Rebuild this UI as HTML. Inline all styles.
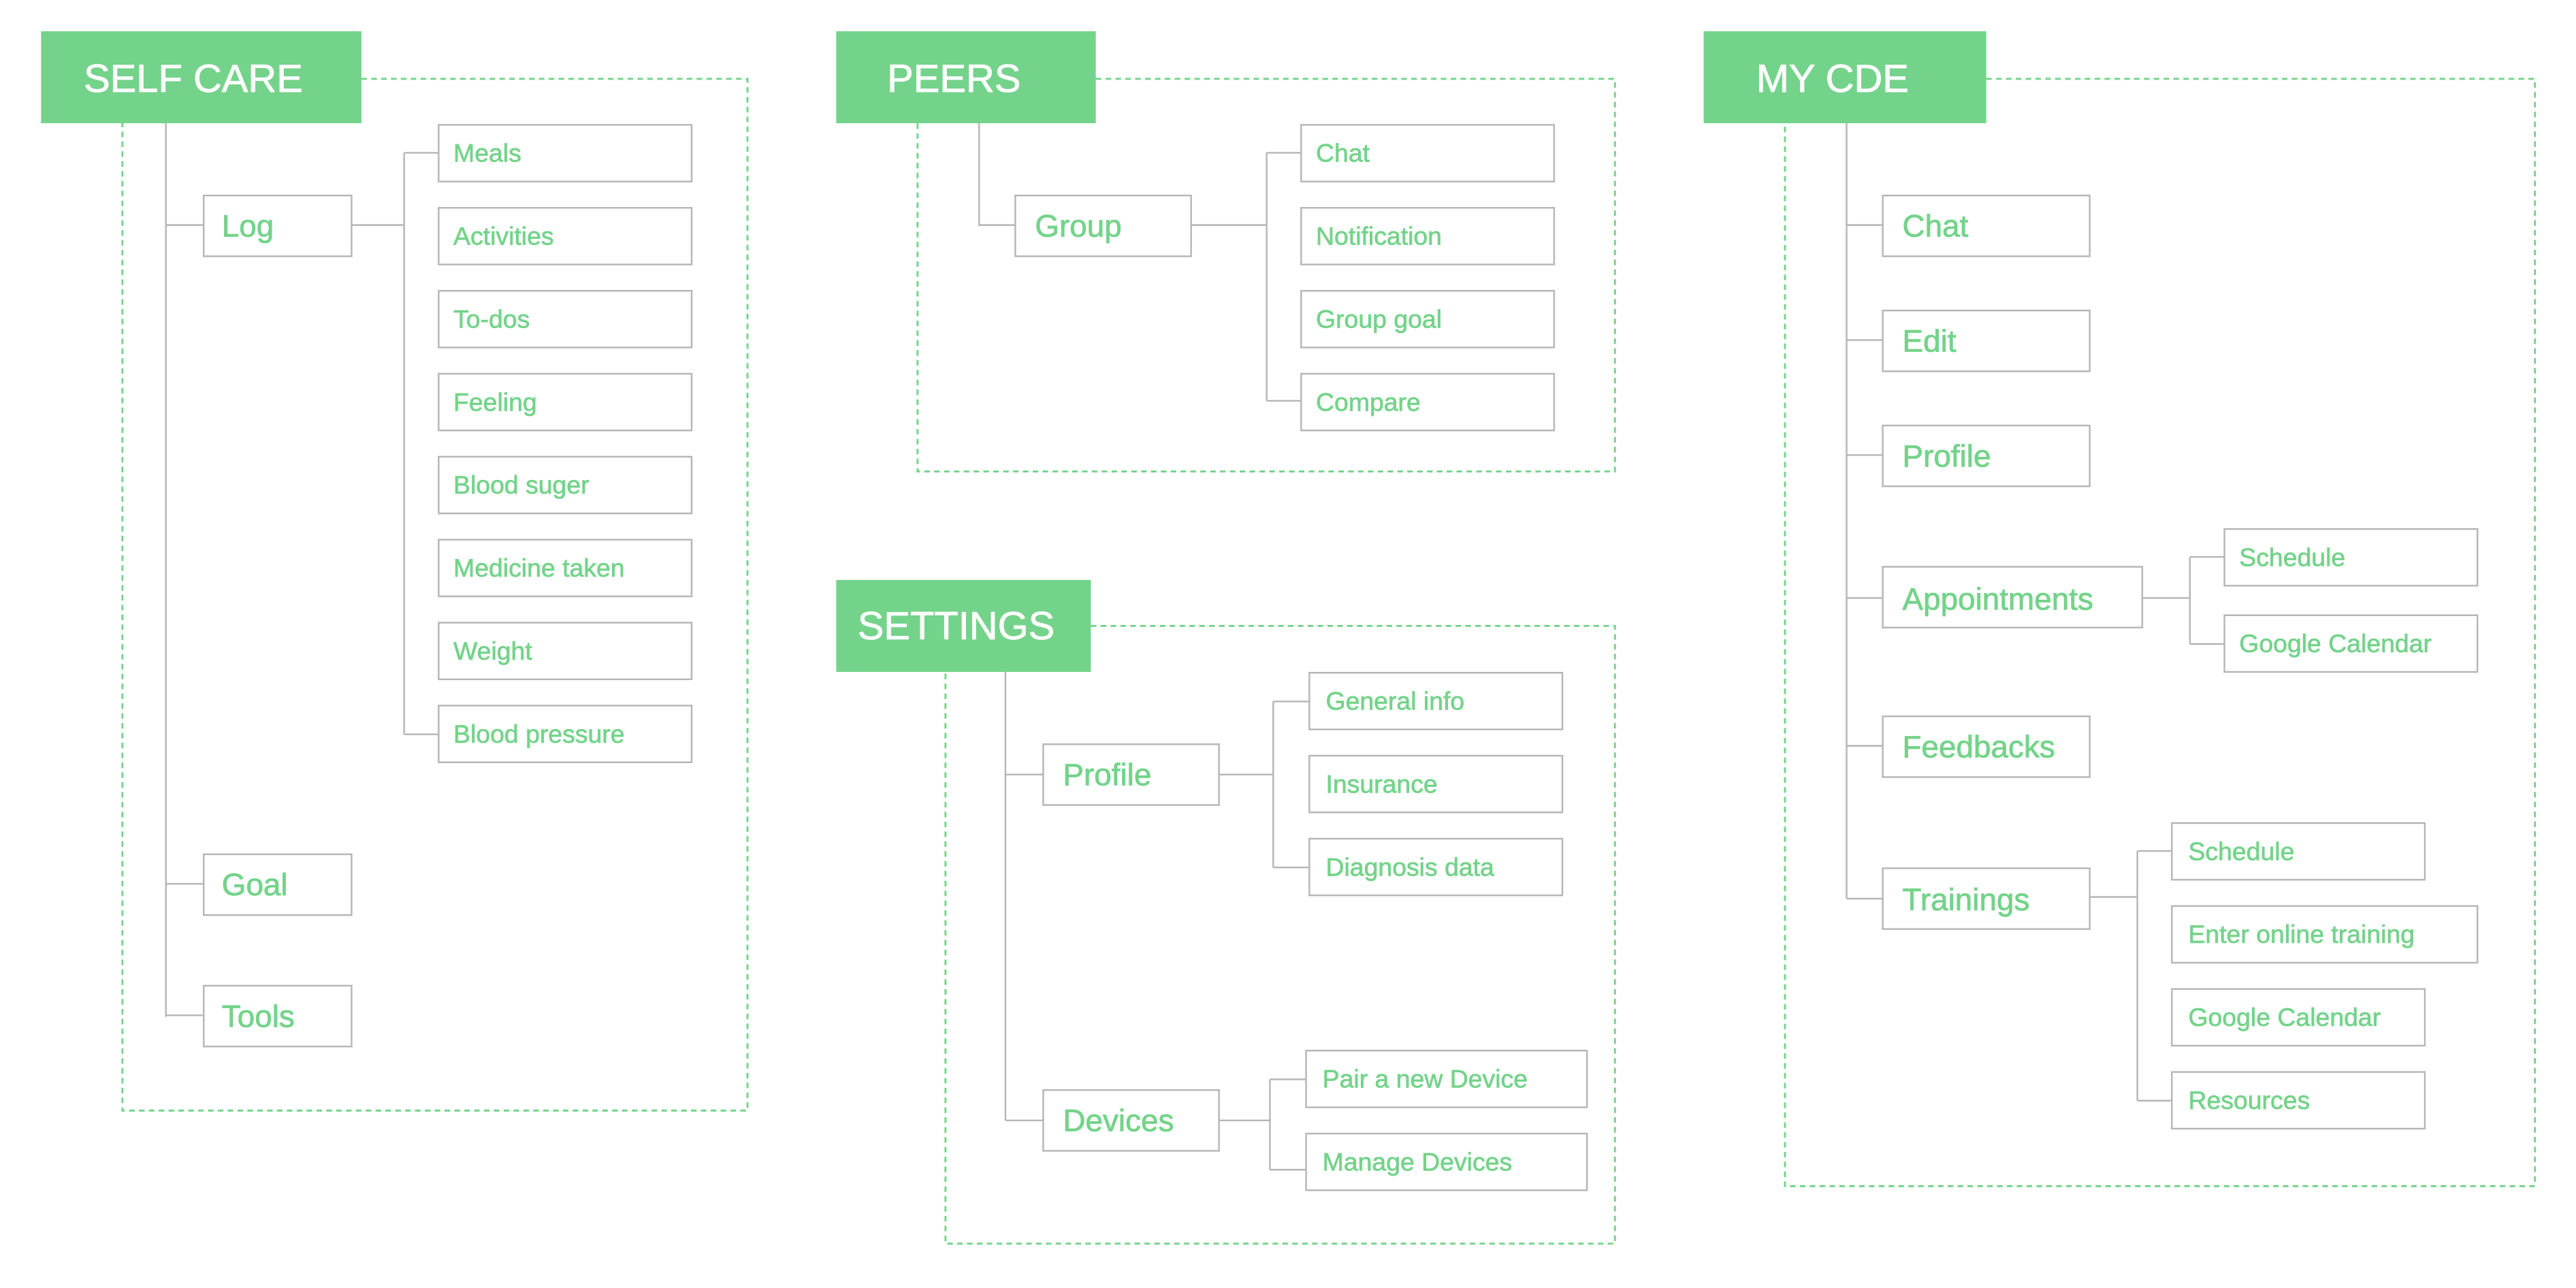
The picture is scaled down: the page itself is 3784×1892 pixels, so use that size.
<!DOCTYPE html>
<html><head><meta charset="utf-8"><style>
html,body{margin:0;padding:0;background:#fff;}
svg{display:block;}
text{font-family:"Liberation Sans",Arial,sans-serif;}
.t{fill:#fff;font-size:24px;stroke:#fff;stroke-width:0.35;}
.L{fill:#74D38A;font-size:19px;stroke:#74D38A;stroke-width:0.35;}
.S{fill:#74D38A;font-size:15.5px;stroke:#74D38A;stroke-width:0.3;}
.b{fill:#fff;stroke:#b5b5b5;stroke-width:1;}
.c{fill:none;stroke:#b5b5b5;stroke-width:1;}
.d{fill:none;stroke:#74D38A;stroke-width:1.2;stroke-dasharray:3.4 2.6;}
.h{fill:#74D38A;}
</style></head><body>
<svg width="3784" height="1892" viewBox="0 0 1568 784" preserveAspectRatio="none" xmlns="http://www.w3.org/2000/svg">
<!-- SELF CARE -->
<polyline class="d" points="220,48 455,48 455,676 74.5,676 74.5,75"/>
<rect class="h" x="25" y="19" width="195" height="56"/>
<text class="t" x="51" y="56">SELF CARE</text>
<path class="c" d="M101,75 V619 M101,137 H124 M101,538 H124 M101,618 H124 M214,137 H246 M246,93 V447 M246,93 H267 M246,447 H267"/>
<rect class="b" x="124" y="119" width="90" height="37"/><text class="L" x="135" y="144">Log</text>
<rect class="b" x="124" y="520" width="90" height="37"/><text class="L" x="135" y="545">Goal</text>
<rect class="b" x="124" y="600" width="90" height="37"/><text class="L" x="135" y="625">Tools</text>
<g>
<rect class="b" x="267" y="76" width="154" height="34.5"/><text class="S" x="276" y="98.5">Meals</text>
<rect class="b" x="267" y="126.5" width="154" height="34.5"/><text class="S" x="276" y="149">Activities</text>
<rect class="b" x="267" y="177" width="154" height="34.5"/><text class="S" x="276" y="199.5">To-dos</text>
<rect class="b" x="267" y="227.5" width="154" height="34.5"/><text class="S" x="276" y="250">Feeling</text>
<rect class="b" x="267" y="278" width="154" height="34.5"/><text class="S" x="276" y="300.5">Blood suger</text>
<rect class="b" x="267" y="328.5" width="154" height="34.5"/><text class="S" x="276" y="351">Medicine taken</text>
<rect class="b" x="267" y="379" width="154" height="34.5"/><text class="S" x="276" y="401.5">Weight</text>
<rect class="b" x="267" y="429.5" width="154" height="34.5"/><text class="S" x="276" y="452">Blood pressure</text>
</g>
<!-- PEERS -->
<polyline class="d" points="667,48 983,48 983,287 558.5,287 558.5,75"/>
<rect class="h" x="509" y="19" width="158" height="56"/>
<text class="t" x="540" y="56">PEERS</text>
<path class="c" d="M596,75 V137 H618 M725,137 H771 M771,93 V244 M771,93 H792 M771,244 H792"/>
<rect class="b" x="618" y="119" width="107" height="37"/><text class="L" x="630" y="144">Group</text>
<rect class="b" x="792" y="76" width="154" height="34.5"/><text class="S" x="801" y="98.5">Chat</text>
<rect class="b" x="792" y="126.5" width="154" height="34.5"/><text class="S" x="801" y="149">Notification</text>
<rect class="b" x="792" y="177" width="154" height="34.5"/><text class="S" x="801" y="199.5">Group goal</text>
<rect class="b" x="792" y="227.5" width="154" height="34.5"/><text class="S" x="801" y="250">Compare</text>
<!-- SETTINGS -->
<polyline class="d" points="664,381 983,381 983,757 575.5,757 575.5,409"/>
<rect class="h" x="509" y="353" width="155" height="56"/>
<text class="t" x="522" y="389">SETTINGS</text>
<path class="c" d="M612,409 V682 M612,471.5 H635 M612,682 H635 M742,471.5 H775 M775,427 V528 M775,427 H797 M775,528 H797 M742,682 H773 M773,657 V712 M773,657 H795 M773,712 H795"/>
<rect class="b" x="635" y="453" width="107" height="37"/><text class="L" x="647" y="478">Profile</text>
<rect class="b" x="635" y="663.5" width="107" height="37"/><text class="L" x="647" y="688.5">Devices</text>
<rect class="b" x="797" y="409.5" width="154" height="34.5"/><text class="S" x="807" y="432">General info</text>
<rect class="b" x="797" y="460" width="154" height="34.5"/><text class="S" x="807" y="482.5">Insurance</text>
<rect class="b" x="797" y="510.5" width="154" height="34.5"/><text class="S" x="807" y="533">Diagnosis data</text>
<rect class="b" x="795" y="639.5" width="171" height="34.5"/><text class="S" x="805" y="662">Pair a new Device</text>
<rect class="b" x="795" y="690" width="171" height="34.5"/><text class="S" x="805" y="712.5">Manage Devices</text>
<!-- MY CDE -->
<polyline class="d" points="1209,48 1543,48 1543,722 1086.5,722 1086.5,75"/>
<rect class="h" x="1037" y="19" width="172" height="56"/>
<text class="t" x="1069" y="56">MY CDE</text>
<path class="c" d="M1124,75 V547 M1124,137 H1146 M1124,207 H1146 M1124,277 H1146 M1124,364 H1146 M1124,454 H1146 M1124,547 H1146 M1304,364 H1333 M1333,339 V392 M1333,339 H1354 M1333,392 H1354 M1272,546 H1301 M1301,518 V670 M1301,518 H1322 M1301,670 H1322"/>
<rect class="b" x="1146" y="119" width="126" height="37"/><text class="L" x="1158" y="144">Chat</text>
<rect class="b" x="1146" y="189" width="126" height="37"/><text class="L" x="1158" y="214">Edit</text>
<rect class="b" x="1146" y="259" width="126" height="37"/><text class="L" x="1158" y="284">Profile</text>
<rect class="b" x="1146" y="345" width="158" height="37"/><text class="L" x="1158" y="371">Appointments</text>
<rect class="b" x="1146" y="436" width="126" height="37"/><text class="L" x="1158" y="461">Feedbacks</text>
<rect class="b" x="1146" y="528.5" width="126" height="37"/><text class="L" x="1158" y="554">Trainings</text>
<rect class="b" x="1354" y="322" width="154" height="34.5"/><text class="S" x="1363" y="344.5">Schedule</text>
<rect class="b" x="1354" y="374.5" width="154" height="34.5"/><text class="S" x="1363" y="397">Google Calendar</text>
<rect class="b" x="1322" y="501" width="154" height="34.5"/><text class="S" x="1332" y="523.5">Schedule</text>
<rect class="b" x="1322" y="551.5" width="186" height="34.5"/><text class="S" x="1332" y="574">Enter online training</text>
<rect class="b" x="1322" y="602" width="154" height="34.5"/><text class="S" x="1332" y="624.5">Google Calendar</text>
<rect class="b" x="1322" y="652.5" width="154" height="34.5"/><text class="S" x="1332" y="675">Resources</text>
</svg>
</body></html>
